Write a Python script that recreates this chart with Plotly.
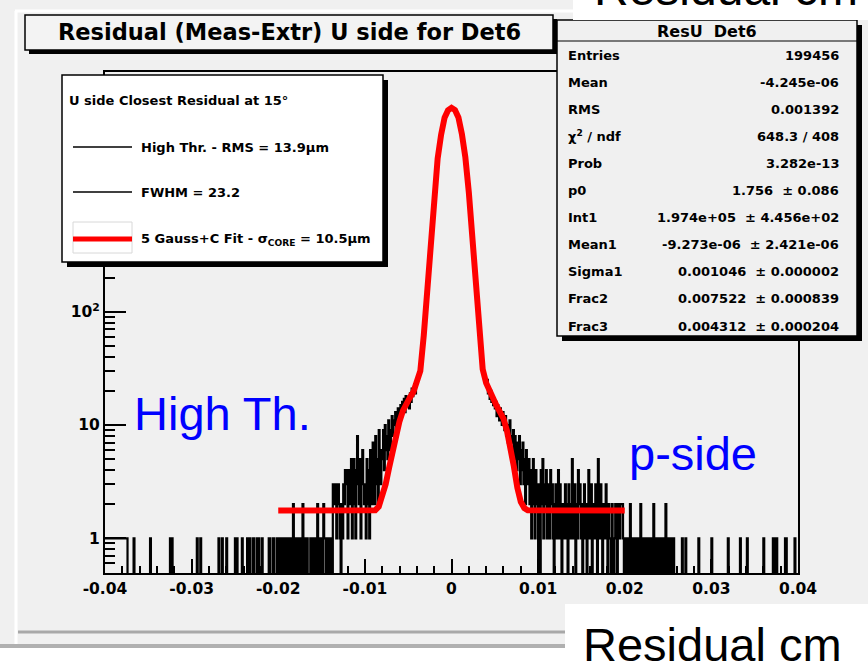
import math
import plotly.graph_objects as go

# ------------------------------------------------------------------ data
BIN_LOW = -0.04
BIN_WIDTH = 0.0001          # 800 bins from -0.04 to 0.04

# bin contents, 50 bins (0.005 cm) per block; digit strings = one count per bin
H_M040 = "11111111111111111111111111" "0000000" "1" "0000000000000000"
H_M035 = "00" "1" "0000000000000000000000" "1" "0" "1" "0000000000000000000000"
H_M030 = "000000" "1" "000" "1" "00000000000000000000" "1" "000" "1" "0000" "1" "000000000"
H_M025 = "1" "0" "1" "00000" "1" "00000" "11" "0" "1" "000" "1" "000" "1" "0" "1" "000" "1" "0000000" "11" "000" "1" "000" "1" "0"
H_M020 = "101101" "00100" "101101201101011012011010" "00" "1011010120110"
H_M015 = "1021101011010" "33231232102" "132443142" "25135214832514632"
H_M010 = [3, 1, 5, 2, 4, 1, 6, 3, 2, 7, 4, 2, 8, 3, 5, 2, 9, 4, 3, 6,
          5, 9, 4, 10, 6, 8, 5, 11, 7, 6, 9, 12, 8, 11, 10, 13, 9, 12, 14, 11,
          13, 15, 12, 16, 14, 17, 13, 18, 15, 16]
H_M005 = [17, 14, 19, 16, 21, 18, 20, 23, 19, 22, 25, 26, 29, 30, 34, 39, 48, 57, 70, 88,
          115, 146, 186, 235, 296, 371, 474, 611, 784, 1013, 1247, 1476, 1741, 2060, 2377,
          2684, 3029, 3421, 3797, 4155, 4544, 4973, 5296, 5494, 5703, 5917, 6060, 6132, 6201, 6274]
H_P000 = [6268, 6195, 6140, 6052, 5925, 5690, 5510, 5280, 4990, 4530, 4170, 3780, 3440, 3010,
          2700, 2360, 2070, 1730, 1490, 1240, 1020, 775, 620, 465, 380, 290, 240, 180, 150, 112,
          90, 68, 58, 46, 40, 33, 30, 27, 26, 24, 22, 25, 19, 21, 17, 20, 16, 18, 15, 17]
H_P005 = [14, 16, 12, 15, 13, 11, 14, 12, 10, 13, 11, 9, 12, 8, 10, 7, 9, 11, 6, 8,
          7, 9, 5, 8, 6, 4, 7, 5, 8, 3, 6, 4, 7, 3, 5, 2, 6, 4, 3, 5,
          2, 4, 1, 3, 5, 2, 1, 4, 3, 2]
H_P010 = "0304251324" "1321423102" "3124132021" "2312031215" "2130214231"
H_P015 = "2013120142" "1302123105" "2132012131" "0211021012" "1022122210"
H_P020 = "1011002010" "1101001020" "1001101001" "0102010011" "0010100201"
H_P025 = "1011011000" "0000001000" "1000000000" "0000010000" "0000000000"
H_P030 = "1000000000000000000" "1" "0000000000000" "1" "0000000" "1" "00000000"
H_P035 = "0000000000" "1" "0000000000" "11" "00" "1" "000000000" "11" "000000000" "1" "000"

# fit curve (5 Gauss + C)
FIT_X = [-0.0200, -0.0088, -0.0084, -0.0080, -0.0076, -0.0072, -0.0068, -0.0064, -0.0060,
         -0.0056, -0.0052, -0.0048, -0.0044, -0.0040, -0.0036, -0.0032, -0.0028, -0.0024,
         -0.0020, -0.0016, -0.0012, -0.0008, -0.0004, 0.0000, 0.0004, 0.0008, 0.0012,
         0.0016, 0.0020, 0.0024, 0.0028, 0.0032, 0.0036, 0.0040, 0.0044, 0.0048, 0.0052,
         0.0056, 0.0060, 0.0064, 0.0068, 0.0072, 0.0076, 0.0080, 0.0084, 0.0088, 0.0200]
FIT_Y = [1.756, 1.77, 1.9, 2.3, 3.0, 4.2, 6.0, 8.2, 10.8,
         13.4, 15.6, 17.5, 19.6, 23.5, 30, 62, 168, 430,
         1120, 2250, 3650, 5150, 6000, 6300, 6020, 5180, 3700,
         2300, 1130, 440, 172, 64, 31, 23.5, 19.8, 17.2, 14.8,
         13.0, 11.4, 8.9, 6.4, 4.3, 2.8, 2.1, 1.85, 1.77, 1.756]

X_TICKS = [-0.04, -0.03, -0.02, -0.01, 0.0, 0.01, 0.02, 0.03, 0.04]
X_TICK_LABELS = ["-0.04", "-0.03", "-0.02", "-0.01", "0", "0.01", "0.02", "0.03", "0.04"]
Y_TICKS = [1, 10, 100]
Y_TICK_LABELS = ["1", "10", "10<sup>2</sup>"]

TITLE = "Residual (Meas-Extr) U side for Det6"
STATS_TITLE = "ResU  Det6"
STATS_LABELS = ["Entries", "Mean", "RMS", "χ<sup>2</sup> / ndf", "Prob", "p0", "Int1",
                "Mean1", "Sigma1", "Frac2", "Frac3"]
STATS_VALUES = ["199456", "-4.245e-06", "0.001392", "648.3 / 408", "3.282e-13", "1.756",
                "1.974e+05", "-9.273e-06", "0.001046", "0.007522", "0.004312"]
STATS_ERRORS = ["", "", "", "", "", "0.086", "4.456e+02", "2.421e-06", "0.000002",
                "0.000839", "0.000204"]

LEG_HEADER = "U side Closest Residual at 15°"
LEG_ENTRIES = ["High Thr. - RMS = 13.9μm", "FWHM = 23.2",
               "5 Gauss+C Fit - σ<sub>CORE</sub> = 10.5μm"]

# ------------------------------------------------------------------ build
blocks = [H_M040, H_M035, H_M030, H_M025, H_M020, H_M015, H_M010, H_M005,
          H_P000, H_P005, H_P010, H_P015, H_P020, H_P025, H_P030, H_P035]
counts = []
for blk in blocks:
    vals = [int(c) for c in blk] if isinstance(blk, str) else list(blk)
    vals = (vals + [0] * 50)[:50]
    counts.extend(vals)
edges = [BIN_LOW + i * BIN_WIDTH for i in range(len(counts) + 1)]
FLOOR = 0.2   # empty bins drop to the bottom of the frame
y_step = [c if c > 0 else FLOOR for c in counts]
y_step.append(y_step[-1])

W, H = 868, 666
PL, PR, PT, PB = 105, 798, 72, 573
BG = "#f0f0f0"
DV = "DejaVu Sans"
AR = "Liberation Sans, Arial, sans-serif"


def P(x, y):
    return (x - PL) / (PR - PL), (PB - y) / (PB - PT)


def rect(x0, y0, x1, y1, fill, lc=None, lw=0):
    a0, b1 = P(x0, y0)
    a1, b0 = P(x1, y1)
    d = dict(type="rect", xref="paper", yref="paper", x0=a0, x1=a1, y0=b0, y1=b1,
             fillcolor=fill, layer="above", line=dict(width=lw, color=lc or fill))
    return d


def seg(x0, y0, x1, y1, color, lw):
    a0, b0 = P(x0, y0)
    a1, b1 = P(x1, y1)
    return dict(type="line", xref="paper", yref="paper", x0=a0, x1=a1, y0=b0, y1=b1,
                layer="above", line=dict(color=color, width=lw))


def txt(x, y, s, size, family=DV, color="black", xanchor="left", weight="bold"):
    a, b = P(x, y)
    return dict(xref="paper", yref="paper", x=a, y=b, text=s, showarrow=False,
                xanchor=xanchor, yanchor="middle", borderpad=0,
                font=dict(family=family, size=size, color=color, weight=weight))


fig = go.Figure()
fig.add_trace(go.Scatter(x=edges, y=y_step, mode="lines",
                         line=dict(color="black", width=2.2, shape="hv"),
                         hoverinfo="skip", showlegend=False))
fig.add_trace(go.Scatter(x=FIT_X, y=FIT_Y, mode="lines",
                         line=dict(color="#ff0000", width=6),
                         hoverinfo="skip", showlegend=False))

shapes = []
annotations = []

# canvas bevel
shapes.append(seg(15, 11, 868, 11, "white", 3))
shapes.append(seg(16, 11, 16, 646, "white", 3))
shapes.append(seg(18, 632, 868, 632, "#a8a8a8", 3))
shapes.append(seg(0, 646, 868, 646, "#b0b0b0", 4))
shapes.append(rect(0, 648, 868, 668, "white"))

# title box
shapes.append(rect(29, 19, 557, 54, "black"))
shapes.append(rect(25, 15, 553, 50, "#f3f3f3", "black", 1.5))
annotations.append(txt(289, 32, TITLE, 22.5, xanchor="center"))

# legend box
shapes.append(rect(67, 80, 388, 267, "black"))
shapes.append(rect(62, 75, 383, 262, "white", "black", 1.5))
annotations.append(txt(68, 100, LEG_HEADER, 13))
shapes.append(seg(73, 147, 132, 147, "black", 1.5))
shapes.append(seg(73, 192, 132, 192, "black", 1.5))
shapes.append(rect(73, 222, 132, 253, "white", "#d8d8d8", 1))
shapes.append(seg(73, 239, 132, 239, "#ff0000", 5))
for i, s in enumerate(LEG_ENTRIES):
    annotations.append(txt(140, [147, 192, 239][i], s, 13))

# stats box
shapes.append(rect(562, 25, 862, 341, "black"))
shapes.append(rect(557, 20, 857, 336, BG, "black", 1.5))
shapes.append(seg(557, 41, 857, 41, "black", 1.2))
annotations.append(txt(707, 31, STATS_TITLE, 16, xanchor="center"))
for i, lab in enumerate(STATS_LABELS):
    yy = 55 + 27.1 * i
    annotations.append(txt(567, yy, lab, 13))
    val = STATS_VALUES[i]
    if STATS_ERRORS[i]:
        val = val + "\u00a0\u00a0±\u00a0" + STATS_ERRORS[i]
    annotations.append(txt(840, yy, val, 13, xanchor="right"))

# big overlay labels
annotations.append(txt(133, 413, "High Th.", 47, family=AR, color="#0000ff", weight="normal"))
annotations.append(txt(628, 453, "p-side", 47, family=AR, color="#0000ff", weight="normal"))
shapes.append(rect(573, -2, 870, 20, "white"))
annotations.append(txt(593, -12, "Residual cm", 48, family=AR, weight="normal"))
shapes.append(rect(565, 604, 870, 668, "white"))
annotations.append(txt(582, 644, "Residual cm", 47, family=AR, weight="normal"))

minor_y = [m * 10 ** e for e in range(-1, 5) for m in range(2, 10) if m * 10 ** e >= 0.49]
minor_y += [1000, 10000]

fig.update_layout(
    width=W, height=H, autosize=False,
    margin=dict(l=PL, r=W - PR, t=PT, b=H - PB, pad=0),
    paper_bgcolor=BG, plot_bgcolor=BG,
    showlegend=False,
    shapes=shapes, annotations=annotations,
    xaxis=dict(range=[-0.04, 0.04], tickmode="array", tickvals=X_TICKS, ticktext=X_TICK_LABELS,
               ticks="inside", ticklen=14, tickwidth=1.5, tickcolor="black",
               minor=dict(dtick=0.002, tick0=-0.04, ticks="inside", ticklen=7, tickwidth=1.5,
                          tickcolor="black", showgrid=False),
               showgrid=False, zeroline=False, showline=True, linecolor="black", linewidth=2,
               mirror=True, tickfont=dict(family=DV, size=15.5, color="black", weight="bold")),
    yaxis=dict(type="log", range=[-0.3063, 4.1156], tickmode="array", tickvals=Y_TICKS,
               ticktext=Y_TICK_LABELS, ticks="inside", ticklen=21, tickwidth=1.5,
               tickcolor="black",
               minor=dict(tickvals=minor_y, ticks="inside", ticklen=10, tickwidth=1.5,
                          tickcolor="black", showgrid=False),
               showgrid=False, zeroline=False, showline=True, linecolor="black", linewidth=2,
               mirror=True, tickfont=dict(family=DV, size=15.5, color="black", weight="bold")),
)

fig.write_html("out.html")
